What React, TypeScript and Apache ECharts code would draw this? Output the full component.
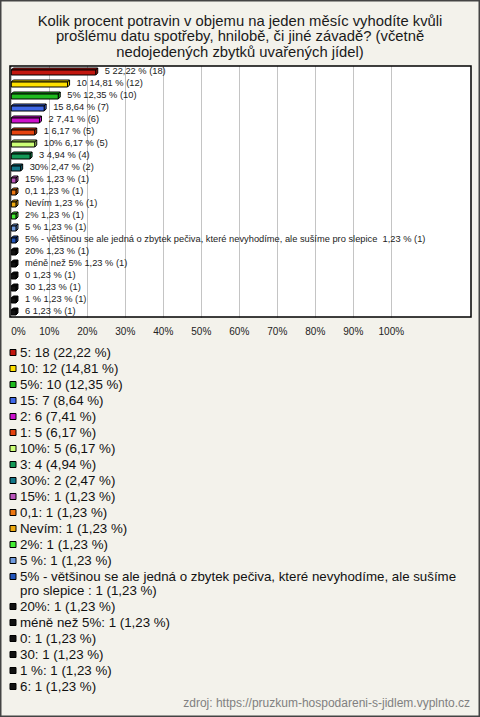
import React, { useEffect, useRef } from "react";
import * as echarts from "echarts";

const TITLE =
  "Kolik procent potravin v objemu na jeden měsíc vyhodíte kvůli\nprošlému datu spotřeby, hnilobě, či jiné závadě? (včetně\nnedojedených zbytků uvařených jídel)";

const categories = [
  "5",
  "10",
  "5%",
  "15",
  "2",
  "1",
  "10%",
  "3",
  "30%",
  "15%",
  "0,1",
  "Nevím",
  "2%",
  "5 %",
  "5% - většinou se ale jedná o zbytek pečiva, které nevyhodíme, ale sušíme pro slepice ",
  "20%",
  "méně než 5%",
  "0",
  "30",
  "1 %",
  "6",
];

const counts = [18, 12, 10, 7, 6, 5, 5, 4, 2, 1, 1, 1, 1, 1, 1, 1, 1, 1, 1, 1, 1];

const percents = [
  22.22, 14.81, 12.35, 8.64, 7.41, 6.17, 6.17, 4.94, 2.47, 1.23, 1.23, 1.23, 1.23, 1.23,
  1.23, 1.23, 1.23, 1.23, 1.23, 1.23, 1.23,
];

const colors = [
  "#c2170f",
  "#ffe000",
  "#1fbb1f",
  "#3f68e8",
  "#cc11cc",
  "#e5420f",
  "#ccff77",
  "#139957",
  "#137688",
  "#bb55bb",
  "#ee7711",
  "#eeaa11",
  "#44ee33",
  "#6f9ade",
  "#2255bb",
  "#111111",
  "#111111",
  "#111111",
  "#111111",
  "#111111",
  "#111111",
];

const SOURCE = "zdroj: https://pruzkum-hospodareni-s-jidlem.vyplnto.cz";

const fmtPct = (v: number) => v.toFixed(2).replace(".", ",");

const wrapWords = (s: string, maxChars: number) => {
  const words = s.split(" ");
  const lines: string[] = [];
  let cur = "";
  words.forEach((w) => {
    const next = cur ? cur + " " + w : w;
    if (next.length > maxChars && cur) {
      lines.push(cur);
      cur = w;
    } else {
      cur = next;
    }
  });
  if (cur) lines.push(cur);
  return lines.join("\n");
};

export default function App() {
  const ref = useRef<HTMLDivElement>(null);

  useEffect(() => {
    if (!ref.current) return;
    const chart = echarts.init(ref.current, undefined, { renderer: "svg" });

    const FONT = "Liberation Sans";
    const TFONT = '"Liberation Sans", Arial, sans-serif';
    const D = 2;

    const legendEls: any[] = [];
    let y = 352.7;
    categories.forEach((name, i) => {
      const text = wrapWords(`${name}: ${counts[i]} (${fmtPct(percents[i])} %)`, 73);
      const nLines = text.split("\n").length;
      legendEls.push({
        type: "rect",
        shape: { x: 10, y: Math.round(y) - 3.5, width: 6, height: 6 },
        style: { fill: colors[i], stroke: "#000", lineWidth: 1 },
      });
      legendEls.push({
        type: "text",
        x: 20,
        y: y - 7.5,
        style: {
          text,
          fill: "#111",
          fontSize: 13.3,
          fontFamily: FONT,
          lineHeight: 14.3,
          verticalAlign: "top",
        },
      });
      y += 16 + (nLines - 1) * 14;
    });

    chart.setOption({
      animation: false,
      backgroundColor: "#f3f2eb",
      grid: { left: 11.3, top: 66, width: 380, height: 252 },
      xAxis: {
        type: "value",
        min: 0,
        max: 100,
        interval: 10,
        axisLine: { show: false },
        axisTick: { show: false },
        splitLine: { lineStyle: { color: "#c4c4c4", width: 1 } },
        axisLabel: {
          formatter: "{value}%",
          fontSize: 10,
          fontFamily: FONT,
          color: "#222",
          margin: 8,
          alignMinLabel: "left",
        },
      },
      yAxis: {
        type: "category",
        data: categories,
        inverse: true,
        show: false,
      },
      graphic: [
        {
          type: "text",
          x: 240,
          y: 13,
          style: {
            text: TITLE,
            align: "center",
            verticalAlign: "top",
            fill: "#1a1a1a",
            fontSize: 14.8,
            fontFamily: TFONT,
            lineHeight: 15.5,
          },
        },
        {
          type: "rect",
          z: -1,
          shape: { x: 10, y: 66, width: 461, height: 251 },
          style: { fill: "#ffffff" },
        },
        {
          type: "rect",
          z: 100,
          shape: { x: 10, y: 66, width: 461, height: 251 },
          style: { fill: "none", stroke: "#000", lineWidth: 1.5 },
        },
        {
          type: "rect",
          z: 100,
          shape: { x: 0.75, y: 0.75, width: 478.5, height: 715.5 },
          style: { fill: "none", stroke: "#444", lineWidth: 1.5 },
        },
        ...legendEls,
        {
          type: "text",
          right: 10,
          top: 697,
          style: {
            text: SOURCE,
            fill: "#808080",
            fontSize: 12,
            fontFamily: FONT,
          },
        },
      ],
      series: [
        {
          type: "custom",
          encode: { x: 0, y: 1 },
          data: categories.map((_, i) => [percents[i], i]),
          renderItem: (params: any, api: any) => {
            const i = params.dataIndex;
            const v = api.value(0);
            const cat = api.value(1);
            const end = api.coord([v, cat]);
            const start = api.coord([0, cat]);
            const x0 = start[0];
            const x1 = end[0];
            const yc = end[1];
            const top = yc - 2;
            const bot = yc + 3;
            const st = { fill: colors[i], stroke: "#000", lineWidth: 1 };
            return {
              type: "group",
              children: [
                {
                  type: "polygon",
                  shape: { points: [[x0, top], [x0 + D, top - D], [x1 + D, top - D], [x1, top]] },
                  style: st,
                },
                {
                  type: "polygon",
                  shape: { points: [[x1, top], [x1 + D, top - D], [x1 + D, bot - D], [x1, bot]] },
                  style: st,
                },
                {
                  type: "rect",
                  shape: { x: x0, y: top, width: x1 - x0, height: bot - top },
                  style: st,
                },
                {
                  type: "text",
                  x: x1 + D + 7,
                  y: yc - 1,
                  style: {
                    text: `${categories[i]} ${fmtPct(percents[i])} % (${counts[i]})`,
                    fill: "#222",
                    fontSize: 9.3,
                    fontFamily: FONT,
                    verticalAlign: "middle",
                  },
                },
              ],
            };
          },
        },
      ],
    });

    return () => chart.dispose();
  }, []);

  return (
    <div
      ref={ref}
      style={{ position: "fixed", left: 0, top: 0, width: 480, height: 717 }}
    />
  );
}
